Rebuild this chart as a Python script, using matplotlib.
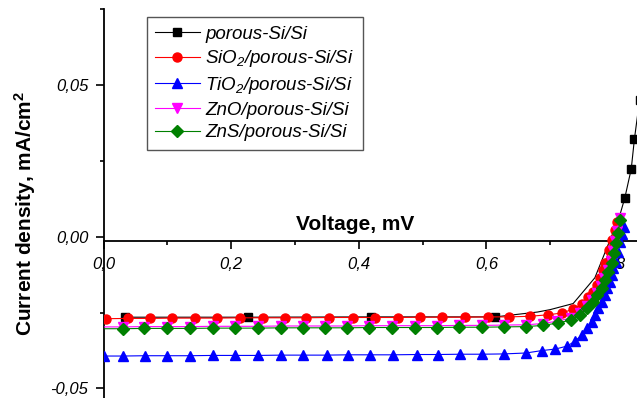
import matplotlib
matplotlib.use('Agg')
from matplotlib import pyplot as plt

plt.rcParams['font.family'] = ['Liberation Sans', 'DejaVu Sans']
plt.rcParams['mathtext.fontset'] = 'custom'
plt.rcParams['mathtext.rm'] = 'Liberation Sans:italic'
plt.rcParams['mathtext.it'] = 'Liberation Sans:italic'
plt.rcParams['mathtext.bf'] = 'Liberation Sans:bold'

# 数据
v_porous = [0.033, 0.227, 0.419, 0.614, 0.680, 0.700, 0.736, 0.770, 0.790, 0.808,
            0.817, 0.827, 0.832, 0.840, 0.850]
j_porous = [-0.0265, -0.0265, -0.0264, -0.0264, -0.0248, -0.0240, -0.0220, -0.0135,
            -0.0030, 0.0063, 0.0129, 0.0224, 0.0323, 0.0450, 0.0600]
porous_marks = [0, 1, 2, 3, 10, 11, 12, 13, 14]

v_sio2 = [0.004, 0.039, 0.073, 0.108, 0.143, 0.178, 0.214, 0.250, 0.285, 0.318,
          0.354, 0.391, 0.425, 0.461, 0.496, 0.530, 0.566, 0.602, 0.635, 0.668,
          0.697, 0.719, 0.736, 0.750, 0.759, 0.767, 0.773, 0.778, 0.783, 0.786,
          0.792, 0.797, 0.802, 0.805]
j_sio2 = [-0.0270, -0.0269, -0.0269, -0.0268, -0.0268, -0.0268, -0.0267, -0.0267,
          -0.0267, -0.0267, -0.0266, -0.0266, -0.0266, -0.0266, -0.0265, -0.0265,
          -0.0265, -0.0264, -0.0264, -0.0262, -0.0257, -0.0251, -0.0238, -0.0221,
          -0.0198, -0.0182, -0.0158, -0.0135, -0.0109, -0.0086, -0.0043, -0.0010,
          0.0023, 0.0050]

v_tio2 = [0.000, 0.031, 0.065, 0.100, 0.135, 0.171, 0.206, 0.242, 0.278, 0.313,
          0.350, 0.383, 0.418, 0.454, 0.491, 0.524, 0.559, 0.593, 0.628, 0.662,
          0.687, 0.708, 0.727, 0.739, 0.750, 0.758, 0.766, 0.770, 0.775, 0.781,
          0.786, 0.789, 0.794, 0.797, 0.799, 0.803, 0.806, 0.809, 0.813, 0.816]
j_tio2 = [-0.0393, -0.0393, -0.0392, -0.0392, -0.0392, -0.0391, -0.0391, -0.0391,
          -0.0390, -0.0390, -0.0390, -0.0389, -0.0389, -0.0389, -0.0388, -0.0388,
          -0.0387, -0.0387, -0.0386, -0.0383, -0.0375, -0.0370, -0.0360, -0.0343,
          -0.0323, -0.0300, -0.0281, -0.0257, -0.0234, -0.0215, -0.0191, -0.0168,
          -0.0149, -0.0125, -0.0102, -0.0083, -0.0050, -0.0017, 0.0010, 0.0033]

v_zno = [0.000, 0.030, 0.063, 0.099, 0.135, 0.171, 0.206, 0.242, 0.278, 0.313,
         0.347, 0.382, 0.416, 0.452, 0.488, 0.523, 0.557, 0.593, 0.628, 0.662,
         0.688, 0.711, 0.732, 0.746, 0.757, 0.766, 0.773, 0.780, 0.785, 0.790,
         0.796, 0.799, 0.802, 0.805, 0.809]
j_zno = [-0.0297, -0.0297, -0.0296, -0.0296, -0.0296, -0.0295, -0.0295, -0.0295,
         -0.0294, -0.0294, -0.0294, -0.0294, -0.0293, -0.0293, -0.0293, -0.0293,
         -0.0292, -0.0292, -0.0291, -0.0290, -0.0286, -0.0278, -0.0268, -0.0251,
         -0.0228, -0.0209, -0.0185, -0.0162, -0.0136, -0.0110, -0.0080, -0.0047,
         -0.0014, 0.0019, 0.0062]

v_zns = [0.000, 0.030, 0.063, 0.099, 0.135, 0.171, 0.206, 0.242, 0.278, 0.313,
         0.347, 0.382, 0.416, 0.452, 0.488, 0.523, 0.557, 0.593, 0.628, 0.662,
         0.689, 0.712, 0.733, 0.747, 0.758, 0.767, 0.774, 0.781, 0.786, 0.791,
         0.797, 0.800, 0.803, 0.806, 0.810]
j_zns = [-0.0303, -0.0303, -0.0302, -0.0302, -0.0302, -0.0301, -0.0301, -0.0301,
         -0.0300, -0.0300, -0.0300, -0.0300, -0.0299, -0.0299, -0.0299, -0.0299,
         -0.0298, -0.0298, -0.0297, -0.0296, -0.0292, -0.0284, -0.0274, -0.0257,
         -0.0234, -0.0215, -0.0191, -0.0168, -0.0142, -0.0116, -0.0086, -0.0053,
         -0.0020, 0.0013, 0.0056]

x_ticks = [0.0, 0.2, 0.4, 0.6, 0.8]
x_labels = ['0,0', '0,2', '0,4', '0,6', '0,8']
y_ticks = [-0.05, 0.0, 0.05]
y_labels = ['-0,05', '0,00', '0,05']

fig = plt.figure(figsize=(6.37, 3.98), dpi=100)
ax = fig.add_axes([0.1625, 0.001, 0.8375, 0.9758])

lw = 0.8
ax.plot(v_porous, j_porous, color='black', lw=lw, marker='s', ms=5.5,
        markevery=porous_marks, label='porous-Si/Si', zorder=3)
ax.plot(v_sio2, j_sio2, color='red', lw=lw, marker='o', ms=6.5,
        label='SiO$_2$/porous-Si/Si', zorder=3)
ax.plot(v_tio2, j_tio2, color='blue', lw=lw, marker='^', ms=6.5,
        label='TiO$_2$/porous-Si/Si', zorder=3)
ax.plot(v_zno, j_zno, color='magenta', lw=lw, marker='v', ms=6.5,
        markevery=slice(1, None), label='ZnO/porous-Si/Si', zorder=3)
ax.plot(v_zns, j_zns, color='green', lw=lw, marker='D', ms=6,
        markevery=slice(1, None), label='ZnS/porous-Si/Si', zorder=3)

ax.set_xlim(0, 0.836)
ax.set_ylim(-0.053, 0.075)

# 坐标轴样式
ax.spines['top'].set_visible(False)
ax.spines['right'].set_visible(False)
ax.spines['bottom'].set_position(('data', -0.0015))
ax.spines['left'].set_linewidth(1.3)
ax.spines['bottom'].set_linewidth(1.3)

ax.set_xticks(x_ticks)
ax.set_xticklabels(x_labels)
ax.set_xticks([0.1, 0.3, 0.5, 0.7], minor=True)
ax.set_yticks(y_ticks)
ax.set_yticklabels(y_labels)
ax.set_yticks([-0.025, 0.025, 0.075], minor=True)
ax.tick_params(axis='both', which='major', direction='out', length=6, width=1.2,
               labelsize=12, pad=5)
ax.tick_params(axis='both', which='minor', direction='out', length=3, width=1.2)
for t in ax.get_xticklabels() + ax.get_yticklabels():
    t.set_fontstyle('italic')

ax.set_xlabel('Voltage, mV', fontsize=15, fontweight='bold')
ax.xaxis.set_label_coords(0.471, 0.4316)
ax.xaxis.label.set_va('baseline')
ax.set_ylabel('Current density, mA/cm$^\\mathbf{2}$', fontsize=15, fontweight='bold')
ax.yaxis.set_label_coords(-0.147, 0.473)
ax.yaxis.label.set_va('center')

leg = ax.legend(loc='upper left', bbox_to_anchor=(147 / 637, 1 - 17 / 398),
                bbox_transform=fig.transFigure, borderaxespad=0,
                prop={'size': 13.5, 'style': 'italic'}, fancybox=False,
                edgecolor='#555555', framealpha=1, handlelength=2.35,
                handletextpad=0.3, labelspacing=0.3, borderpad=0.45)
leg.get_frame().set_linewidth(1.0)

fig.savefig('out.png', dpi=100)
